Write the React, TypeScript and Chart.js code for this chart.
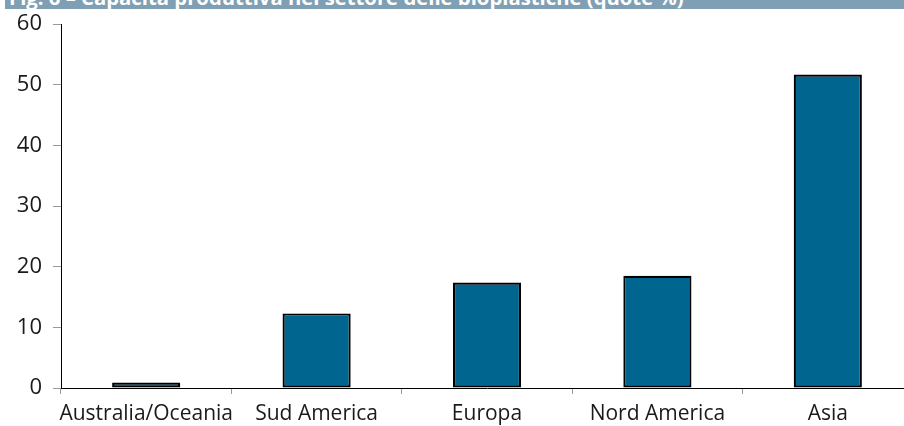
import React, { useEffect, useRef } from "react";
import { Chart, registerables } from "chart.js";

Chart.register(...registerables);

const TITLE = "Fig. 6 – Capacità produttiva nel settore delle bioplastiche (quote %)";
const CATEGORIES = ["Australia/Oceania", "Sud America", "Europa", "Nord America", "Asia"];
const VALUES = [0.9, 12.3, 17.4, 18.5, 51.7];
const Y_MIN = 0;
const Y_MAX = 60;
const Y_STEP = 10;

const FONT = "'Open Sans', 'Noto Sans', sans-serif";

export default function App() {
  const ref = useRef<HTMLCanvasElement | null>(null);

  useEffect(() => {
    if (!ref.current) return;
    const chart = new Chart(ref.current, {
      type: "bar",
      data: {
        labels: CATEGORIES,
        datasets: [
          {
            data: VALUES,
            backgroundColor: "#00668f",
            borderColor: "#000000",
            borderWidth: 2.2,
            borderSkipped: false,
            categoryPercentage: 1,
            barPercentage: 0.4,
          },
        ],
      },
      options: {
        responsive: false,
        animation: false,
        devicePixelRatio: 1,
        layout: { padding: { top: 22, left: 0, right: 0, bottom: 0 } },
        plugins: { legend: { display: false }, title: { display: false }, tooltip: { enabled: false } },
        scales: {
          x: {
            grid: { drawOnChartArea: false, drawTicks: true, tickLength: 6, color: "#999999", offset: true },
            border: { color: "#000000", width: 1 },
            ticks: { color: "#1a1a1a", font: { family: FONT, size: 21 }, padding: 7, maxRotation: 0, autoSkip: false },
            afterFit: (s: any) => { s.height = 38; },
          },
          y: {
            min: Y_MIN,
            max: Y_MAX,
            grid: { drawOnChartArea: false, drawTicks: true, tickLength: 8, color: "#999999" },
            border: { color: "#000000", width: 1 },
            ticks: { stepSize: Y_STEP, color: "#1a1a1a", font: { family: FONT, size: 22 }, padding: 11 },
            afterFit: (s: any) => { s.width = 61; },
          },
        },
      },
    });
    return () => chart.destroy();
  }, []);

  return (
    <div style={{ position: "absolute", left: 0, top: 0, width: 904, height: 426, overflow: "hidden", background: "#fff" }}>
      <canvas ref={ref} width={913} height={426} style={{ width: 913, height: 426, display: "block" }} />
      <div
        style={{
          position: "absolute",
          left: 5,
          top: 0,
          width: 899,
          height: 9,
          background: "#7f9fb4",
          overflow: "hidden",
        }}
      >
        <div
          style={{
            position: "absolute",
            left: 4,
            top: -13,
            whiteSpace: "nowrap",
            color: "#ffffff",
            fontFamily: FONT,
            fontWeight: 700,
            fontSize: 20.3,
            lineHeight: "20px",
          }}
        >
          {TITLE}
        </div>
      </div>
    </div>
  );
}
